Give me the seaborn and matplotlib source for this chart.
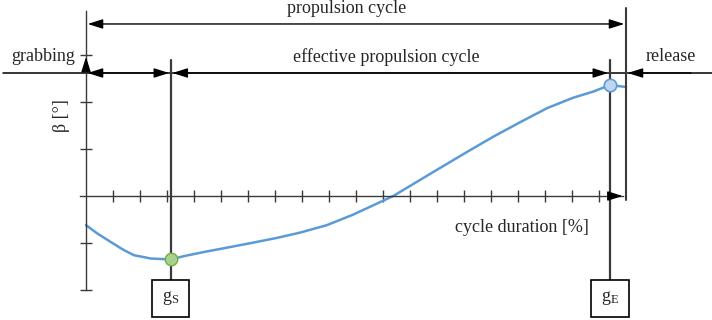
import numpy as np
import pandas as pd
import matplotlib
matplotlib.use("Agg")
import matplotlib.pyplot as plt
import seaborn as sns

# =============================================
# Data
cycle_pct = [0, 2.0, 4.6, 7.0, 8.9, 12.0, 15.7, 18.1, 21.9, 25.6, 30.6, 35.4, 39.6,
             44.6, 49.4, 56.9, 64.3, 70.6, 75.4, 80.4, 85.4, 90.2, 93.9, 97.0, 100]
beta = [-0.62, -0.79, -0.98, -1.15, -1.26, -1.33, -1.35, -1.28, -1.19, -1.11, -1.00, -0.89, -0.78,
        -0.62, -0.40, 0.0, 0.51, 0.94, 1.26, 1.57, 1.87, 2.09, 2.22, 2.36, 2.32]

x_ticks = [5, 10, 15, 20, 25, 30, 35, 40, 45, 50, 55, 60, 65, 70, 75, 80, 85, 90, 95]
y_ticks = [-2, -1, 1, 2, 3]

g_start = 15.7   # g_S, start of effective propulsion
g_end = 97.0     # g_E, end of effective propulsion
cycle_end = 100

phase_labels = ["grabbing", "effective propulsion cycle", "release"]
top_label = "propulsion cycle"
x_label = "cycle duration [%]"
y_label = "β [°]"

# =============================================
sns.set_style("white")
plt.rcParams['font.family'] = ['Liberation Serif', 'DejaVu Serif']
plt.rcParams['mathtext.fontset'] = 'custom'
plt.rcParams['mathtext.rm'] = 'Liberation Serif'

fontSize = 13
dark = '#3a3a3a'

df = pd.DataFrame({'cycle': cycle_pct, 'beta': beta})

fig = plt.figure(figsize=(7.12, 3.2), dpi=100)
ax = fig.add_axes([0, 0, 1, 1])

sns.lineplot(data=df, x='cycle', y='beta', color='#5b9bd5', linewidth=1.8, ax=ax)

ax.set_xlim(-15.93, 115.93)
ax.set_ylim(-2.638, 4.170)

# axes through the origin
for s in ['top', 'right']:
    ax.spines[s].set_visible(False)
ax.spines['left'].set_position(('data', 0))
ax.spines['bottom'].set_position(('data', 0))
ax.spines['left'].set_bounds(-2, 3.94)
ax.spines['bottom'].set_bounds(-1.1, 99.4)
for s in ['left', 'bottom']:
    ax.spines[s].set_color(dark)
    ax.spines[s].set_linewidth(1.0)
ax.set_xticks(x_ticks)
ax.set_yticks(y_ticks)
ax.set_xticklabels([])
ax.set_yticklabels([])
ax.tick_params(bottom=True, left=True, direction='inout', length=9, width=1.0, color=dark)
ax.set_xlabel('')
ax.set_ylabel('')

head = dict(arrowstyle='-|>,head_length=0.7,head_width=0.22', color='black', lw=1.0,
            shrinkA=0, shrinkB=0, mutation_scale=13)
both = dict(head, arrowstyle='<|-|>,head_length=0.7,head_width=0.22')

# axis arrow heads
ax.annotate('', xy=(99.4, 0), xytext=(97.5, 0), arrowprops=head)
ax.annotate('', xy=(0, 2.96), xytext=(0, 2.7), arrowprops=head)

# phase line
y_phase = 2.617
ax.plot([-15.4, 115.93], [y_phase, y_phase], color='black', lw=1.1)
ax.annotate('', xy=(0.3, y_phase), xytext=(g_start - 0.3, y_phase), arrowprops=both)
ax.annotate('', xy=(g_start + 0.3, y_phase), xytext=(g_end - 0.3, y_phase), arrowprops=both)
ax.annotate('', xy=(cycle_end + 0.3, y_phase), xytext=(112, y_phase), arrowprops=head)

# propulsion cycle arrow
y_top = 3.66
ax.annotate('', xy=(0.3, y_top), xytext=(cycle_end - 0.3, y_top), arrowprops=both)

# vertical boundaries
ax.plot([cycle_end, cycle_end], [-0.085, 4.0], color=dark, lw=1.5)
for gx in [g_start, g_end]:
    ax.plot([gx, gx], [-1.83, 2.89], color=dark, lw=1.6)

# boxes
for gx, lab in [(g_start, r'$\mathregular{g_S}$'), (g_end, r'$\mathregular{g_E}$')]:
    ax.text(gx, -2.18, lab, ha='center', va='center', fontsize=fontSize,
            bbox=dict(boxstyle='square,pad=0.55', fc='white', ec='black', lw=1.2))

# markers at g_S and g_E
ax.scatter([g_start], [-1.35], s=80, color='#a9d18e', edgecolor='#70ad47', linewidth=1.0, zorder=5)
ax.scatter([g_end], [2.36], s=80, color='#bdd7ee', edgecolor='#5b9bd5', linewidth=1.2, zorder=5)

# texts
ax.text(48.3, 3.98, top_label, ha='center', va='center', fontsize=fontSize)
ax.text(55.7, 2.96, phase_labels[1], ha='center', va='center', fontsize=fontSize)
ax.text(-8.0, 2.96, phase_labels[0], ha='center', va='center', fontsize=fontSize)
ax.text(108.4, 2.96, phase_labels[2], ha='center', va='center', fontsize=fontSize)
ax.text(68.3, -0.68, x_label, ha='left', va='center', fontsize=fontSize)
ax.text(-4.6, 1.72, y_label, ha='center', va='center', fontsize=fontSize, rotation=90)

plt.savefig('out.png', dpi=100)
plt.close()
